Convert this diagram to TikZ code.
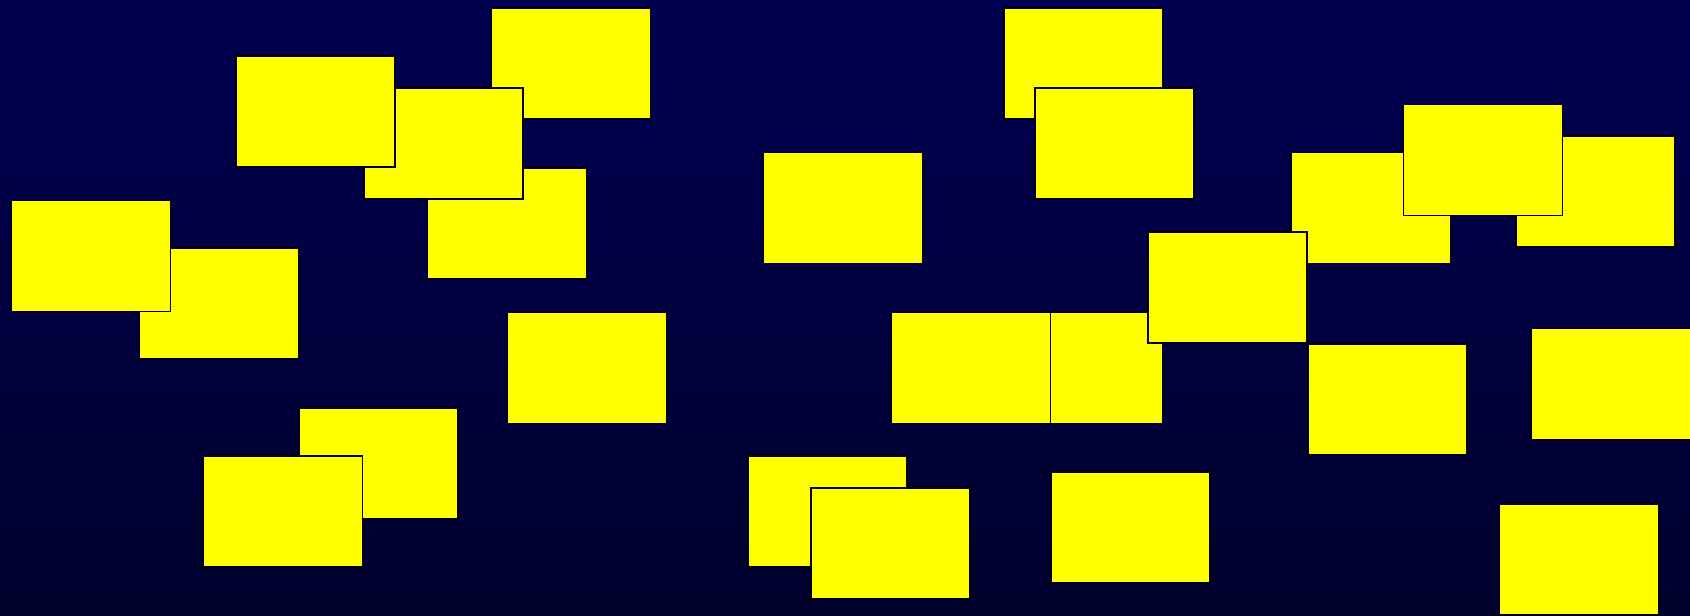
\documentclass[tikz,border=0pt]{standalone}
\definecolor{cardyellow}{RGB}{255,255,0}
\definecolor{bgtop}{RGB}{0,0,82}
\definecolor{bgbot}{RGB}{0,0,44}
\begin{document}
\begin{tikzpicture}[x=1pt,y=-1pt,
  card/.style={draw=black,fill=cardyellow,line width=1.7pt,minimum width=159pt,minimum height=111pt,inner sep=0pt,outer sep=0pt,rectangle}]
\useasboundingbox (0,0) rectangle (1690,616);
\clip (0,0) rectangle (1690,616);
\shade[top color=bgtop, bottom color=bgbot] (0,0) rectangle (1690,616);
\node[card] (A) at (571,63.5) {};
\node[card] (D) at (507,223.5) {};
\node[card] (C) at (443.5,143.8) {};
\node[card] (B) at (315.2,111.7) {};
\node[card] (F) at (219,303.7) {};
\node[card] (E) at (91.1,256) {};
\node[card] (G) at (587,368) {};
\node[card] (H) at (378.8,463.8) {};
\node[card] (I) at (283,511.7) {};
\node[card] (J) at (1083.3,63.5) {};
\node[card] (K) at (1114.5,143.8) {};
\node[card] (L) at (843,208) {};
\node[card] (O) at (1595.5,191.3) {};
\node[card] (M) at (1371,208) {};
\node[card] (N) at (1482.9,160) {};
\node[card] (R) at (1083,368) {};
\node[card] (Q) at (970.9,368) {};
\node[card] (P) at (1227.2,287.5) {};
\node[card] (S) at (1611,384) {};
\node[card] (T) at (1387.2,399.7) {};
\node[card] (U) at (827.2,511.8) {};
\node[card] (V) at (890.3,543.7) {};
\node[card] (W) at (1130.8,527.8) {};
\node[card] (X) at (1579.1,559.8) {};
\end{tikzpicture}
\end{document}
